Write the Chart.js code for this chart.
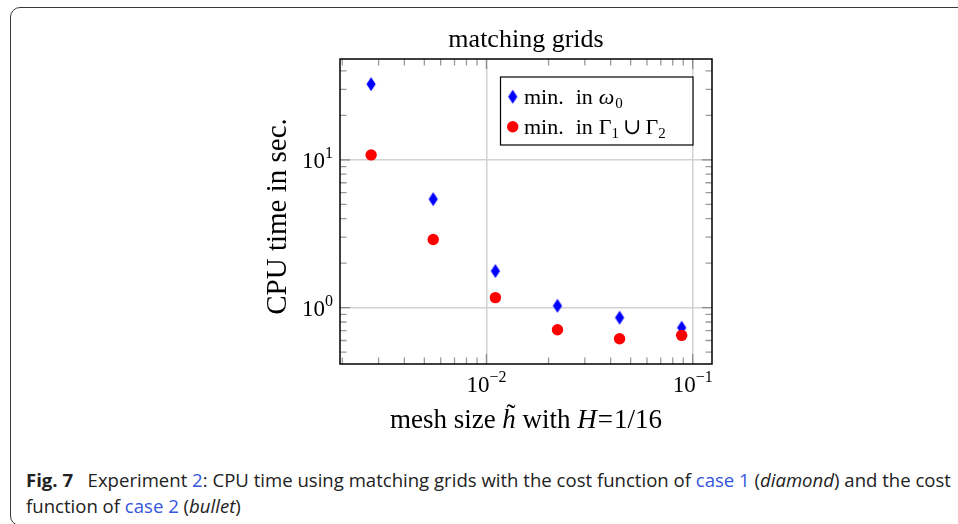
<!DOCTYPE html>
<html>
<head>
<meta charset="utf-8">
<script src="https://cdn.jsdelivr.net/npm/chart.js@4/dist/chart.umd.min.js"></script>
<style>
  html, body { margin:0; padding:0; background:#fff; width:958px; height:524px; overflow:hidden; }
  #frame { position:absolute; left:10px; top:7px; width:1000px; height:517px; border:1.5px solid #3a3a3a; border-radius:10px; box-sizing:content-box; }
  #chart { position:absolute; left:0; top:0; }
  #cap { position:absolute; left:26px; top:468px; font-family:'Open Sans', sans-serif; font-size:18px; line-height:25.5px; color:#222; white-space:nowrap; transform-origin:0 0; }
  #cap div { display:block; }
  #cap .ln { display:inline-block; }
  .lk { color:#3356dd; }
</style>
</head>
<body>
<div id="frame"></div>
<canvas id="chart" width="958" height="440"></canvas>
<div id="cap">
  <div><span class="ln" id="l1"><b>Fig. 7</b>&nbsp;&nbsp;&nbsp;Experiment <span class="lk">2</span>: CPU time using matching grids with the cost function of <span class="lk">case 1</span> (<i>diamond</i>) and the cost</span></div>
  <div><span class="ln">function of <span class="lk">case 2</span> (<i>bullet</i>)</span></div>
</div>
<script>
// ---- data ----
const meshSizes = [0.00276, 0.00552, 0.01105, 0.0221, 0.0442, 0.0884];
const cpuOmega0 = [32.5, 5.42, 1.77, 1.03, 0.856, 0.732];
const cpuGamma  = [10.8, 2.89, 1.17, 0.71, 0.617, 0.65];
const seriesNames = ['omega0', 'gamma'];
const xTickValues = [0.002,0.003,0.004,0.005,0.006,0.007,0.008,0.009,0.01,0.02,0.03,0.04,0.05,0.06,0.07,0.08,0.09,0.1];
const yTickValues = [0.5,0.6,0.7,0.8,0.9,1,2,3,4,5,6,7,8,9,10,20,30,40];
const xLabelExponents = [-2, -1];
const yLabelExponents = [0, 1];
const xRange = [0.00195, 0.124];
const yRange = [0.416, 48.1];
const chartTitle = 'matching grids';
const yTitle = 'CPU time in sec.';

// ---- caption fit ----
(function(){
  const l1 = document.getElementById('l1');
  const w = l1.getBoundingClientRect().width;
  const s = 925 / w;
  document.getElementById('cap').style.transform = 'scaleX(' + s + ')';
})();

const SERIF = '"Liberation Serif", "DejaVu Serif", serif';
const BLUE = '#0000ff', RED = '#ff0000';

// diamond marker
const diamond = document.createElement('canvas');
diamond.width = 12; diamond.height = 16;
(function(){
  const c = diamond.getContext('2d');
  c.fillStyle = BLUE;
  c.beginPath();
  c.moveTo(6, 1); c.lineTo(10.6, 8); c.lineTo(6, 15); c.lineTo(1.4, 8); c.closePath();
  c.fill();
})();

function isMajor(v){ const l = Math.log10(v); return Math.abs(l - Math.round(l)) < 1e-6; }

function drawParts(ctx, parts, x, y){
  let cx = x;
  for (const p of parts){
    ctx.font = p.f;
    ctx.fillText(p.t, cx, y + (p.dy || 0));
    p.x = cx; p.w = ctx.measureText(p.t).width;
    cx += p.w + (p.gap || 0);
  }
  return cx;
}
function partsWidth(ctx, parts){
  let w = 0;
  for (const p of parts){ ctx.font = p.f; w += ctx.measureText(p.t).width + (p.gap || 0); }
  return w;
}

const pgfPlugin = {
  id: 'pgf',
  beforeDatasetsDraw(chart){
    const ctx = chart.ctx, a = chart.chartArea;
    const xs = chart.scales.x, ys = chart.scales.y;
    ctx.save();
    ctx.lineWidth = 1.3;
    for (const t of xs.ticks){
      const px = xs.getPixelForValue(t.value);
      const maj = isMajor(t.value), len = maj ? 10 : 6.5;
      ctx.strokeStyle = maj ? '#8a8a8a' : '#9a9a9a';
      ctx.beginPath();
      ctx.moveTo(px, a.bottom); ctx.lineTo(px, a.bottom - len);
      ctx.moveTo(px, a.top); ctx.lineTo(px, a.top + len);
      ctx.stroke();
    }
    for (const t of ys.ticks){
      const py = ys.getPixelForValue(t.value);
      const maj = isMajor(t.value), len = maj ? 10 : 6.5;
      ctx.strokeStyle = maj ? '#8a8a8a' : '#9a9a9a';
      ctx.beginPath();
      ctx.moveTo(a.left, py); ctx.lineTo(a.left + len, py);
      ctx.moveTo(a.right, py); ctx.lineTo(a.right - len, py);
      ctx.stroke();
    }
    ctx.strokeStyle = '#000';
    ctx.lineWidth = 1.5;
    ctx.strokeRect(a.left, a.top, a.right - a.left, a.bottom - a.top);
    ctx.restore();
  },
  afterDraw(chart){
    const ctx = chart.ctx, a = chart.chartArea;
    const xs = chart.scales.x, ys = chart.scales.y;
    ctx.save();
    ctx.fillStyle = '#000';
    ctx.textBaseline = 'alphabetic';
    ctx.textAlign = 'left';
    const fTick = '23px ' + SERIF, fExp = '16px ' + SERIF;
    for (const e of xLabelExponents){
      const px = xs.getPixelForValue(Math.pow(10, e));
      const parts = [{t:'10', f:fTick}, {t:(e < 0 ? '\u2212' : '') + Math.abs(e), f:fExp, dy:-10}];
      const w = partsWidth(ctx, parts);
      drawParts(ctx, parts, px - w/2, a.bottom + 28);
    }
    for (const e of yLabelExponents){
      const py = ys.getPixelForValue(Math.pow(10, e));
      const parts = [{t:'10', f:fTick}, {t:(e < 0 ? '\u2212' : '') + Math.abs(e), f:fExp, dy:-10}];
      const w = partsWidth(ctx, parts);
      drawParts(ctx, parts, a.left - 7 - w, py + 8);
    }
    // title
    ctx.font = '26px ' + SERIF;
    ctx.textAlign = 'center';
    ctx.fillText(chartTitle, (a.left + a.right)/2, 47);
    // y title
    ctx.save();
    ctx.translate(286, (a.top + a.bottom)/2 + 5);
    ctx.rotate(-Math.PI/2);
    ctx.font = '29px ' + SERIF;
    ctx.textAlign = 'center';
    ctx.fillText(yTitle, 0, 0);
    ctx.restore();
    // x title
    ctx.textAlign = 'left';
    const R = '27px ' + SERIF, I = 'italic 27px ' + SERIF;
    const xt = [{t:'mesh size ', f:R}, {t:'h', f:I}, {t:' with ', f:R}, {t:'H', f:I, gap:1}, {t:'=', f:R, gap:1}, {t:'1/16', f:R}];
    const xw = partsWidth(ctx, xt);
    drawParts(ctx, xt, (a.left + a.right)/2 - xw/2, 428);
    const hp = xt[1];
    ctx.font = R; ctx.textAlign = 'center';
    ctx.fillText('\u02DC', hp.x + hp.w/2 + 2, 428 - 5);
    // legend
    ctx.textAlign = 'left';
    const lx = 500.5, ly = 77, lw = 192.5, lh = 68;
    ctx.fillStyle = '#fff';
    ctx.fillRect(lx, ly, lw, lh);
    ctx.strokeStyle = '#000'; ctx.lineWidth = 1.2;
    ctx.strokeRect(lx, ly, lw, lh);
    const ds = chart.data.datasets;
    ctx.drawImage(ds[0].pointStyle, 512.7 - 6, 96.7 - 8);
    ctx.fillStyle = ds[1].backgroundColor;
    ctx.beginPath(); ctx.arc(512.7, 126.7, ds[1].pointRadius, 0, Math.PI*2); ctx.fill();
    ctx.fillStyle = '#000';
    const LR = '22px ' + SERIF, LI = 'italic 22px ' + SERIF, LS = '15px ' + SERIF;
    drawParts(ctx, [{t:'min.', f:LR, gap:12}, {t:'in', f:LR, gap:6}, {t:'\u03C9', f:LI, gap:1}, {t:'0', f:LS, dy:4}], 524, 103.5);
    drawParts(ctx, [{t:'min.', f:LR, gap:12}, {t:'in', f:LR, gap:6}, {t:'\u0393', f:LR, gap:0}, {t:'1', f:LS, dy:4, gap:4}, {t:'\u222A', f:LR, gap:4}, {t:'\u0393', f:LR}, {t:'2', f:LS, dy:4}], 524, 133.5);
    ctx.restore();
  }
};

function scaleOpts(ticksArr, range, fit){
  return {
    type: 'logarithmic',
    min: range[0], max: range[1],
    border: { display: false },
    grid: {
      drawTicks: false,
      lineWidth: 1.5,
      color: (c) => (c.tick && isMajor(c.tick.value)) ? '#d2d2d2' : 'rgba(0,0,0,0)'
    },
    ticks: { display: false },
    afterBuildTicks: (s) => { s.ticks = ticksArr.filter(v => v >= range[0] && v <= range[1]).map(v => ({ value: v })); },
    afterFit: fit
  };
}

new Chart(document.getElementById('chart'), {
  type: 'scatter',
  data: {
    datasets: [
      { label: seriesNames[0], data: meshSizes.map((x, i) => ({ x, y: cpuOmega0[i] })),
        pointStyle: diamond, pointRadius: 7, backgroundColor: BLUE, borderWidth: 0, order: 2 },
      { label: seriesNames[1], data: meshSizes.map((x, i) => ({ x, y: cpuGamma[i] })),
        pointStyle: 'circle', pointRadius: 5.7, backgroundColor: RED, borderColor: RED, borderWidth: 0, order: 1 }
    ]
  },
  options: {
    responsive: false,
    animation: false,
    devicePixelRatio: 1,
    layout: { padding: { left: 0, right: 246, top: 59, bottom: 0 } },
    plugins: { legend: { display: false }, tooltip: { enabled: false }, title: { display: false } },
    scales: {
      x: scaleOpts(xTickValues, xRange, (s) => { s.height = 76; }),
      y: scaleOpts(yTickValues, yRange, (s) => { s.width = 340; })
    }
  },
  plugins: [pgfPlugin]
});
</script>
</body>
</html>
